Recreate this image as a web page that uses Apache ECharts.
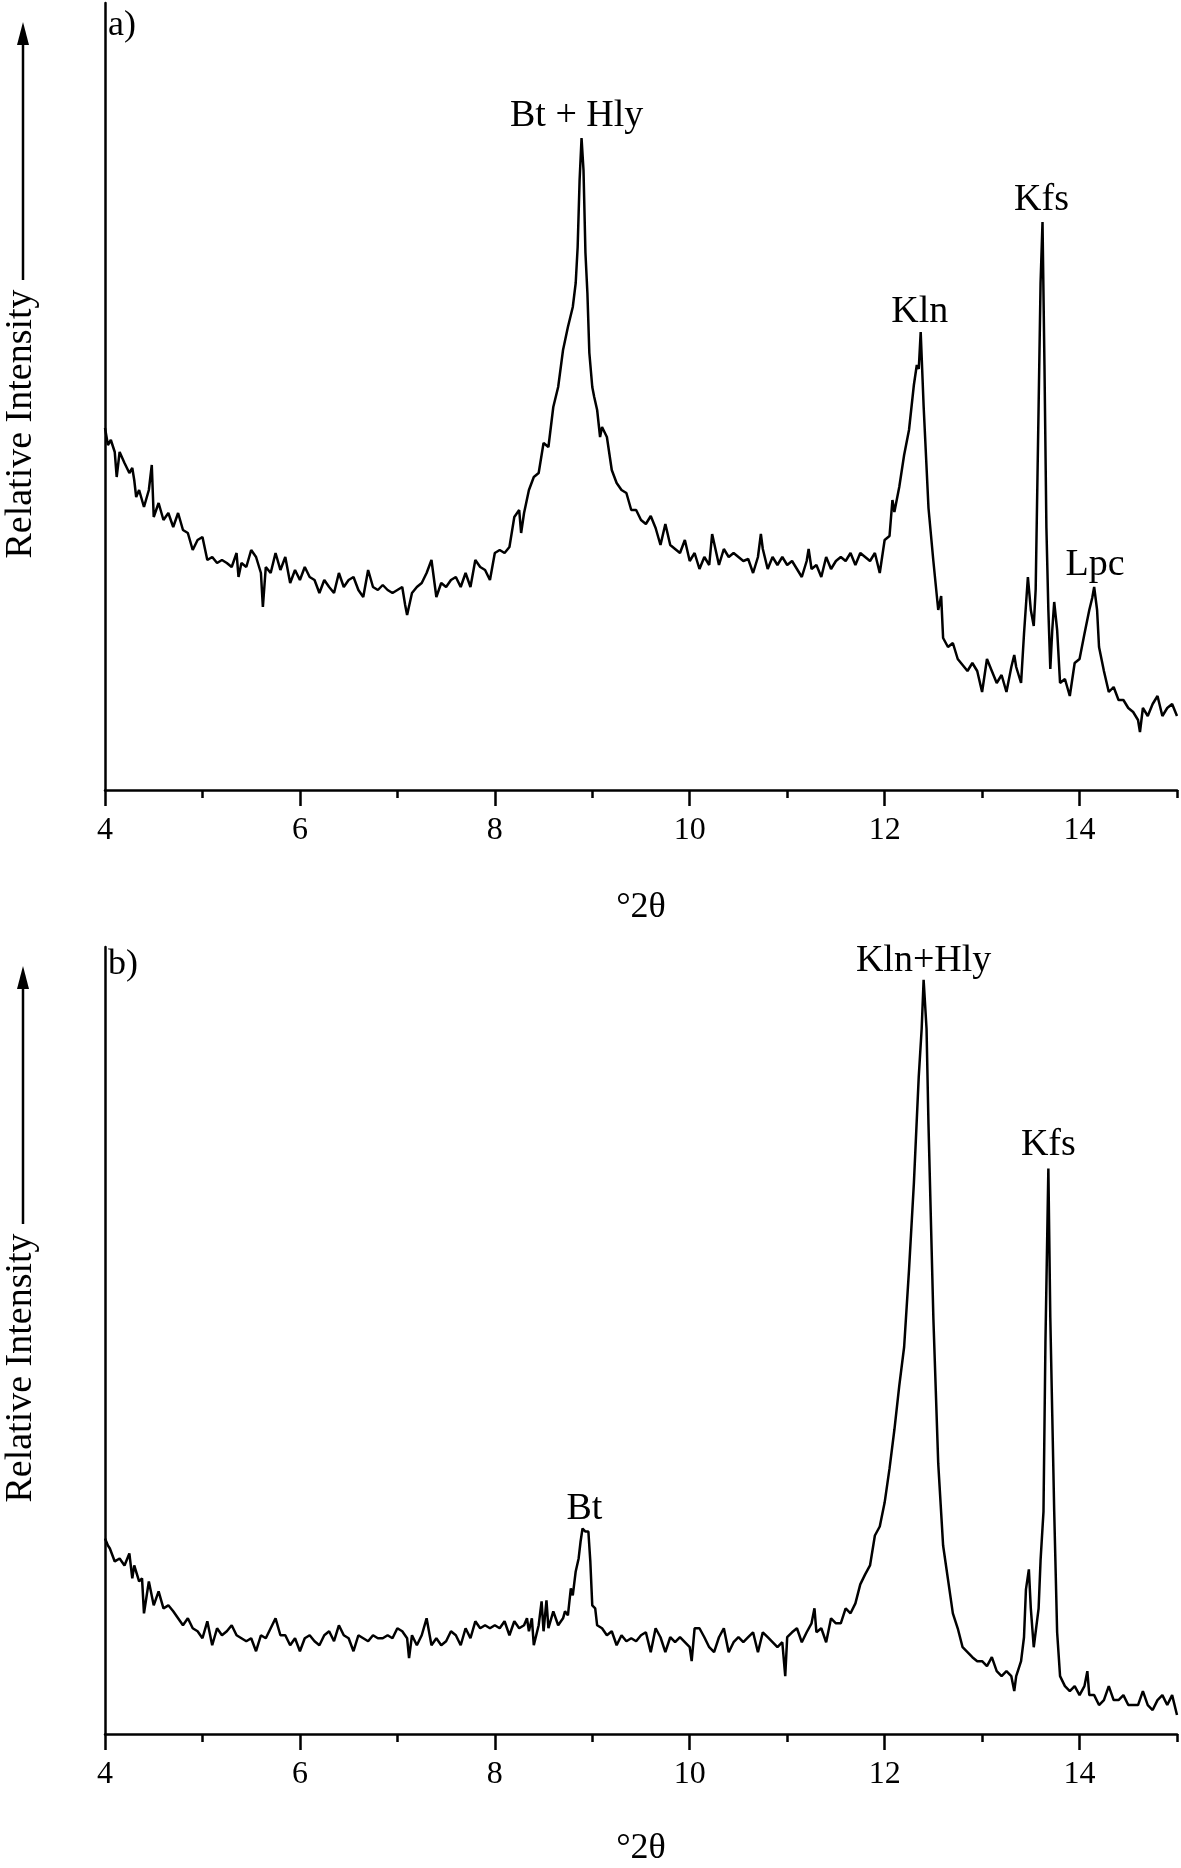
<!DOCTYPE html>
<html>
<head>
<meta charset="utf-8">
<title>XRD patterns a) and b)</title>
<script src="https://cdn.jsdelivr.net/npm/echarts@6/dist/echarts.min.js"></script>
<style>
  html, body { margin: 0; padding: 0; background: #fff; }
  #chart { width: 1181px; height: 1868px; }
</style>
</head>
<body>
<div id="chart"></div>
<script>
// pattern a) : degrees 2-theta and relative intensity (arbitrary units)
const angleA = [
  4.00, 4.03, 4.06, 4.10, 4.12, 4.15, 4.20, 4.25, 4.28, 4.30, 4.32, 4.35, 4.40, 4.45, 4.48, 4.50, 4.55, 4.60, 4.65, 4.70, 4.75, 4.80, 4.85, 4.90, 4.95,
  5.00, 5.05, 5.10, 5.15, 5.20, 5.25, 5.30, 5.35, 5.37, 5.40, 5.45, 5.50, 5.55, 5.60, 5.62, 5.65, 5.70, 5.75, 5.80, 5.85, 5.90, 5.95,
  6.00, 6.05, 6.10, 6.15, 6.20, 6.25, 6.30, 6.35, 6.40, 6.45, 6.50, 6.55, 6.60, 6.65, 6.70, 6.75, 6.80, 6.85, 6.90, 6.95,
  7.00, 7.05, 7.08, 7.10, 7.15, 7.20, 7.25, 7.30, 7.35, 7.40, 7.45, 7.50, 7.55, 7.60, 7.65, 7.70, 7.75, 7.80, 7.85, 7.90, 7.95,
  8.00, 8.05, 8.10, 8.15, 8.20, 8.25, 8.27, 8.30, 8.35, 8.40, 8.45, 8.50, 8.55, 8.60, 8.65, 8.70, 8.75, 8.80, 8.83, 8.85, 8.87, 8.89, 8.91, 8.93, 8.95, 8.97,
  9.00, 9.02, 9.05, 9.08, 9.10, 9.15, 9.20, 9.25, 9.30, 9.35, 9.40, 9.45, 9.50, 9.55, 9.60, 9.65, 9.70, 9.75, 9.80, 9.85, 9.90, 9.95,
  10.00, 10.05, 10.10, 10.15, 10.20, 10.23, 10.25, 10.30, 10.35, 10.40, 10.45, 10.50, 10.55, 10.60, 10.65, 10.70, 10.73, 10.75, 10.80, 10.85, 10.90, 10.95,
  11.00, 11.05, 11.10, 11.15, 11.20, 11.22, 11.25, 11.30, 11.35, 11.40, 11.45, 11.50, 11.55, 11.60, 11.65, 11.70, 11.75, 11.80, 11.85, 11.90, 11.95,
  12.00, 12.05, 12.08, 12.10, 12.15, 12.20, 12.25, 12.30, 12.33, 12.35, 12.37, 12.40, 12.45, 12.50, 12.55, 12.58, 12.60, 12.65, 12.70, 12.75, 12.80, 12.85, 12.90, 12.95,
  13.00, 13.05, 13.10, 13.15, 13.20, 13.25, 13.30, 13.33, 13.35, 13.40, 13.43, 13.47, 13.50, 13.53, 13.55, 13.58, 13.60, 13.62, 13.64, 13.66, 13.68, 13.70, 13.72, 13.74, 13.77, 13.80, 13.85, 13.90, 13.95,
  14.00, 14.05, 14.10, 14.13, 14.15, 14.18, 14.20, 14.25, 14.30, 14.35, 14.40, 14.45, 14.50, 14.55, 14.60, 14.62, 14.65, 14.70, 14.75, 14.80, 14.85, 14.90, 14.95, 15.00
];
const intensityA = [
  362, 345, 350, 338, 313, 338, 327, 317, 322, 310, 293, 300, 283, 300, 325, 273, 287, 270, 277, 263, 277, 260, 257, 240, 250,
  253, 230, 233, 227, 230, 227, 223, 237, 213, 227, 223, 240, 233, 217, 183, 223, 217, 237, 220, 233, 207, 220,
  210, 223, 213, 210, 197, 210, 203, 197, 217, 203, 210, 213, 200, 193, 220, 203, 200, 205, 200, 197,
  200, 203, 185, 175, 197, 203, 207, 217, 230, 193, 207, 203, 210, 213, 203, 217, 203, 230, 223, 220, 210,
  237, 240, 237, 243, 273, 280, 257, 277, 300, 313, 317, 347, 343, 383, 403, 440, 463, 483, 507, 543, 610, 652, 620, 537, 497, 437,
  403, 393, 380, 353, 363, 353, 320, 307, 300, 297, 280, 280, 270, 266, 274, 262, 245, 266, 245, 241, 237, 250,
  229, 237, 221, 233, 225, 256, 254, 225, 241, 233, 237, 233, 229, 231, 217, 233, 256, 241, 221, 233, 225, 233,
  225, 229, 221, 213, 229, 241, 221, 225, 213, 233, 221, 229, 233, 229, 237, 225, 237, 233, 229, 237, 217,
  250, 254, 290, 278, 303, 335, 360, 405, 425, 421, 458, 384, 282, 229, 180, 194, 152, 143, 147, 131, 125, 119, 127, 119,
  98, 131, 119, 107, 115, 98, 123, 135, 123, 107, 156, 213, 180, 164, 201, 384, 507, 568, 425, 262, 180, 121, 160, 188, 160, 107, 111, 94, 127,
  131, 156, 180, 192, 203, 180, 143, 119, 98, 103, 90, 90, 82, 78, 70, 58, 82, 74, 86, 94, 74, 82, 86, 74
];

// pattern b)
const angleB = [
  4.00, 4.03, 4.05, 4.10, 4.15, 4.20, 4.25, 4.28, 4.30, 4.35, 4.38, 4.40, 4.45, 4.50, 4.55, 4.60, 4.65, 4.70, 4.75, 4.80, 4.85, 4.90, 4.95,
  5.00, 5.05, 5.10, 5.15, 5.20, 5.25, 5.30, 5.35, 5.40, 5.45, 5.50, 5.55, 5.60, 5.65, 5.70, 5.75, 5.80, 5.85, 5.90, 5.95,
  6.00, 6.05, 6.10, 6.15, 6.20, 6.25, 6.30, 6.35, 6.40, 6.45, 6.50, 6.55, 6.60, 6.65, 6.70, 6.75, 6.80, 6.85, 6.90, 6.95,
  7.00, 7.05, 7.10, 7.12, 7.15, 7.20, 7.25, 7.30, 7.35, 7.40, 7.45, 7.50, 7.55, 7.60, 7.65, 7.70, 7.75, 7.80, 7.85, 7.90, 7.95,
  8.00, 8.05, 8.10, 8.15, 8.20, 8.25, 8.30, 8.33, 8.35, 8.38, 8.40, 8.45, 8.48, 8.50, 8.53, 8.55, 8.60, 8.65, 8.70, 8.72, 8.75, 8.78, 8.80, 8.83, 8.86, 8.88, 8.90, 8.93, 8.96, 8.98,
  9.00, 9.03, 9.05, 9.10, 9.15, 9.20, 9.25, 9.30, 9.35, 9.40, 9.45, 9.50, 9.55, 9.60, 9.65, 9.70, 9.75, 9.80, 9.85, 9.90, 9.95,
  10.00, 10.02, 10.05, 10.10, 10.15, 10.20, 10.25, 10.30, 10.35, 10.40, 10.45, 10.50, 10.55, 10.60, 10.65, 10.70, 10.75, 10.80, 10.85, 10.90, 10.95, 10.98,
  11.00, 11.05, 11.10, 11.15, 11.20, 11.25, 11.28, 11.30, 11.35, 11.40, 11.45, 11.50, 11.55, 11.60, 11.65, 11.70, 11.75, 11.80, 11.85, 11.90, 11.95,
  12.00, 12.05, 12.10, 12.15, 12.20, 12.25, 12.30, 12.35, 12.38, 12.40, 12.43, 12.45, 12.50, 12.55, 12.60, 12.65, 12.70, 12.75, 12.80, 12.85, 12.90, 12.95,
  13.00, 13.05, 13.10, 13.15, 13.20, 13.25, 13.30, 13.33, 13.35, 13.40, 13.43, 13.45, 13.48, 13.50, 13.53, 13.55, 13.58, 13.60, 13.63, 13.65, 13.68, 13.70, 13.72, 13.74, 13.77, 13.80, 13.85, 13.90, 13.95,
  14.00, 14.05, 14.08, 14.10, 14.15, 14.20, 14.25, 14.30, 14.35, 14.40, 14.45, 14.50, 14.55, 14.60, 14.65, 14.70, 14.75, 14.80, 14.85, 14.90, 14.95, 15.00
];
const intensityB = [
  196, 189, 186, 173, 176, 169, 181, 156, 169, 153, 156, 121, 153, 129, 143, 126, 129, 123, 116, 109, 116, 106, 103,
  96, 113, 89, 106, 99, 103, 109, 99, 96, 93, 96, 83, 99, 96, 106, 116, 99, 99, 89, 96,
  83, 96, 99, 93, 89, 99, 103, 93, 109, 99, 96, 83, 99, 96, 93, 99, 96, 96, 99, 96,
  106, 103, 96, 76, 99, 89, 99, 116, 89, 96, 89, 93, 103, 99, 89, 106, 96, 113, 106, 109, 106,
  109, 106, 113, 99, 113, 106, 109, 116, 103, 116, 89, 109, 133, 103, 134, 106, 123, 109, 116, 123, 119, 146, 139, 163, 176, 193, 206, 203, 203, 173,
  129, 126, 109, 106, 99, 103, 89, 99, 93, 96, 93, 99, 102, 82, 106, 97, 82, 97, 92, 97, 92,
  87, 73, 106, 106, 97, 87, 82, 97, 106, 82, 92, 97, 92, 97, 102, 82, 102, 97, 92, 87, 92, 58,
  97, 102, 106, 92, 102, 111, 126, 102, 106, 92, 116, 111, 111, 126, 121, 131, 150, 160, 169, 199, 208,
  232, 266, 305, 349, 388, 465, 552, 659, 707, 756, 707, 611, 417, 271, 189, 155, 121, 106, 87, 82, 77, 73,
  73, 68, 77, 63, 58, 63, 58, 43, 58, 73, 97, 145, 165, 126, 87, 87, 126, 174, 223, 392, 567, 417, 320, 223, 102, 58, 48, 43, 48,
  39, 48, 63, 39, 39, 29, 34, 48, 34, 34, 39, 29, 29, 29, 43, 29, 24, 34, 39, 29, 39, 19
];

const majorTicks = [4, 6, 8, 10, 12, 14];

// mineral labels and where they sit (2-theta, intensity)
const namesA = ['Bt + Hly', 'Kln', 'Kfs', 'Lpc'];
const spotsA = [[8.84, 674], [12.36, 478], [13.61, 590], [14.16, 225]];
const namesB = ['Kln+Hly', 'Kfs', 'Bt'];
const spotsB = [[12.40, 775], [13.68, 590], [8.92, 226]];

const serif = '"Liberation Serif", "Times New Roman", serif';
const ink = '#000';

const pairs = (xs, ys) => xs.map((x, i) => [x, ys[i]]);

function makeX(gridIndex) {
  return [{
    gridIndex, type: 'value', min: 4, max: 15, interval: 1,
    axisLine: {onZero: false, lineStyle: {color: ink, width: 2.5}},
    axisTick: {length: 8, lineStyle: {color: ink, width: 2.5}},
    axisLabel: {
      color: ink, fontFamily: serif, fontSize: 32, margin: 25,
      formatter: v => (v % 2 === 0 ? String(v) : '')
    },
    splitLine: {show: false},
    name: '°2θ', nameLocation: 'middle', nameGap: gridIndex === 0 ? 100 : 97,
    nameTextStyle: {color: ink, fontFamily: serif, fontSize: 36}
  }, {
    gridIndex, type: 'value', min: 4, max: 15, position: 'bottom',
    axisLine: {show: false},
    axisTick: {length: 16, customValues: majorTicks, lineStyle: {color: ink, width: 2.5}},
    axisLabel: {show: false},
    splitLine: {show: false}
  }];
}

function makeY(gridIndex, top) {
  return {
    gridIndex, type: 'value', min: 0, max: top,
    axisLine: {show: true, lineStyle: {color: ink, width: 2.5}},
    axisTick: {show: false}, axisLabel: {show: false}, splitLine: {show: false}
  };
}

function makeSeries(xIdx, yIdx, data, names, spots) {
  return {
    type: 'line', xAxisIndex: xIdx, yAxisIndex: yIdx, data,
    showSymbol: false, silent: true,
    lineStyle: {color: ink, width: 2.5},
    markPoint: {
      symbol: 'circle', symbolSize: 1, silent: true,
      itemStyle: {color: 'rgba(0,0,0,0)'},
      label: {show: true, position: 'inside', formatter: '{b}', color: ink, fontFamily: serif, fontSize: 38},
      data: names.map((n, i) => ({name: n, coord: spots[i]}))
    }
  };
}

// y-axis caption with the upward arrow, and the panel letters
function decor(dy, letter, letterY) {
  return [
    {type: 'line', shape: {x1: 23, y1: 40 + dy, x2: 23, y2: 280 + dy}, style: {stroke: ink, lineWidth: 2.5}},
    {type: 'polygon', shape: {points: [[23, 22 + dy], [17, 45 + dy], [29, 45 + dy]]}, style: {fill: ink}},
    {type: 'text', x: 21, y: 424 + dy, rotation: Math.PI / 2,
      style: {text: 'Relative Intensity', font: '38px ' + serif, fill: ink, textAlign: 'center', textVerticalAlign: 'middle'}},
    {type: 'text', x: 108, y: letterY,
      style: {text: letter, font: '36px ' + serif, fill: ink, textAlign: 'left', textVerticalAlign: 'middle'}}
  ];
}

const chart = echarts.init(document.getElementById('chart'), null, {renderer: 'canvas'});
chart.setOption({
  animation: false,
  backgroundColor: '#fff',
  grid: [
    {left: 105, right: 4, top: 3, height: 787},
    {left: 105, right: 4, top: 947, height: 789}
  ],
  xAxis: [...makeX(0), ...makeX(1)],
  yAxis: [makeY(0, 787), makeY(1, 789)],
  series: [
    makeSeries(0, 0, pairs(angleA, intensityA), namesA, spotsA),
    makeSeries(2, 1, pairs(angleB, intensityB), namesB, spotsB)
  ],
  graphic: [...decor(0, 'a)', 26), ...decor(944, 'b)', 965)]
});
</script>
</body>
</html>
